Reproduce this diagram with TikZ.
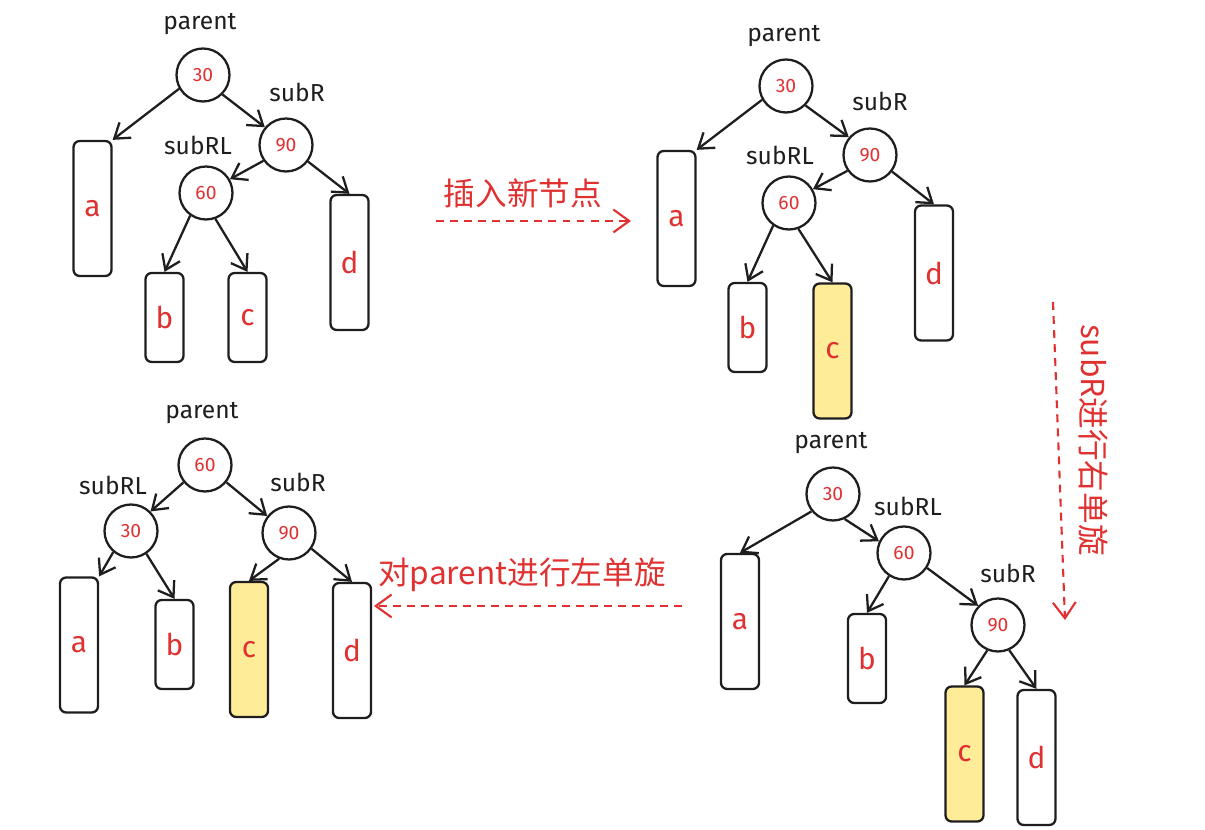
\documentclass[tikz,border=0pt]{standalone}
\usepackage{fontspec}
\setmainfont{Fira Sans}
\newfontfamily\cjk{Noto Sans CJK SC}
\usepackage{xcolor}
\usetikzlibrary{arrows.meta}

\definecolor{ink}{HTML}{1E1E1E}
\definecolor{redink}{HTML}{E03131}
\definecolor{hl}{HTML}{FFEC99}

\tikzset{
  tnode/.style={circle, draw=ink, line width=1.3pt, minimum size=1.06cm, inner sep=0pt,
    text=redink, font=\fontsize{11}{11}\selectfont},
  subtree/.style={rectangle, rounded corners=3.5pt, draw=ink, line width=1.3pt,
    minimum width=0.76cm, inner sep=0pt, text=redink, font=\fontsize{17}{17}\selectfont},
  tall/.style={subtree, minimum height=2.7cm},
  short/.style={subtree, minimum height=1.78cm},
  newbox/.style={fill=hl},
  tag/.style={text=ink, font=\fontsize{14}{14}\selectfont},
  edge/.style={draw=ink, line width=1.3pt, -{Straight Barb[length=8pt,width=11pt]}},
  opflow/.style={draw=redink, line width=1.2pt, dash pattern=on 4.5pt off 3.5pt,
    -{Straight Barb[length=9pt,width=13pt]}},
  optext/.style={text=redink, font=\cjk\fontsize{18}{18}\selectfont}
}

\begin{document}
\begin{tikzpicture}[x=0.02cm, y=-0.02cm]
  \useasboundingbox (0,0) rectangle (1205,830);

  % stage 1: before insertion
  \node[tag] (s1-parent) at (200,24) {parent};
  \node[tnode] (s1-30) at (203,75) {30};
  \node[tag] (s1-subR) at (297,92) {subR};
  \node[tnode] (s1-90) at (286,145) {90};
  \node[tag] (s1-subRL) at (198,145) {subRL};
  \node[tnode] (s1-60) at (206,193) {60};
  \node[tall] (s1-a) at (92.5,208.5) {a};
  \node[short] (s1-b) at (164.5,317.5) {b};
  \node[short] (s1-c) at (247.5,317.5) {c};
  \node[tall] (s1-d) at (349.5,262.5) {d};
  \draw[edge] (s1-30.210) -- (s1-a.north east);
  \draw[edge] (s1-30.-45) -- (s1-90.140);
  \draw[edge] (s1-90.215) -- (s1-60.30);
  \draw[edge] (s1-90.-37) -- (s1-d.north);
  \draw[edge] (s1-60.235) -- (s1-b.north);
  \draw[edge] (s1-60.-70) -- (s1-c.north);

  % insert
  \coordinate (ins-from) at (436,221);
  \coordinate (ins-to) at (631,221);
  \draw[opflow] (ins-from) -- (ins-to);
  \node[optext] (ins-text) at (523,193) {插入新节点};

  % stage 2: c grows
  \node[tag] (s2-parent) at (784,36) {parent};
  \node[tnode] (s2-30) at (786,86) {30};
  \node[tag] (s2-subR) at (880,101) {subR};
  \node[tnode] (s2-90) at (870,155) {90};
  \node[tag] (s2-subRL) at (780,155) {subRL};
  \node[tnode] (s2-60) at (789,203) {60};
  \node[tall] (s2-a) at (676.5,218.5) {a};
  \node[short] (s2-b) at (747.5,327.5) {b};
  \node[tall, newbox] (s2-c) at (832.5,351) {c};
  \node[tall] (s2-d) at (934,273) {d};
  \draw[edge] (s2-30.210) -- (s2-a.north east);
  \draw[edge] (s2-30.-45) -- (s2-90.140);
  \draw[edge] (s2-90.215) -- (s2-60.30);
  \draw[edge] (s2-90.-37) -- (s2-d.north);
  \draw[edge] (s2-60.235) -- (s2-b.north);
  \draw[edge] (s2-60.-70) -- (s2-c.north);

  % right rotation on subR
  \coordinate (rr-from) at (1053,302);
  \coordinate (rr-to) at (1065,620);
  \draw[opflow] (rr-from) -- (rr-to);
  \node[optext, rotate=-90] (rr-text) at (1093,440) {subR进行右单旋};

  % stage 3: after right rotation
  \node[tag] (s3-parent) at (831,443) {parent};
  \node[tnode] (s3-30) at (833,494) {30};
  \node[tag] (s3-subRL) at (908,506) {subRL};
  \node[tnode] (s3-60) at (904,553) {60};
  \node[tag] (s3-subR) at (1008,573) {subR};
  \node[tnode] (s3-90) at (998,625) {90};
  \node[tall] (s3-a) at (740,621.5) {a};
  \node[short] (s3-b) at (867,658.5) {b};
  \node[tall, newbox] (s3-c) at (964.5,754) {c};
  \node[tall] (s3-d) at (1036.5,757.5) {d};
  \draw[edge] (s3-30.219) -- (s3-a.north);
  \draw[edge] (s3-30.-65) -- (s3-60.155);
  \draw[edge] (s3-60.237) -- (s3-b.north);
  \draw[edge] (s3-60.-33) -- (s3-90.136);
  \draw[edge] (s3-90.247) -- (s3-c.north);
  \draw[edge] (s3-90.-66) -- (s3-d.north);

  % left rotation on parent
  \coordinate (rl-from) at (682,606);
  \coordinate (rl-to) at (374,606);
  \draw[opflow] (rl-from) -- (rl-to);
  \node[optext] (rl-text) at (522,575) {对parent进行左单旋};

  % stage 4: balanced
  \node[tag] (s4-parent) at (202,413) {parent};
  \node[tnode] (s4-60) at (205,465) {60};
  \node[tag] (s4-subRL) at (113,485) {subRL};
  \node[tnode] (s4-30) at (131,531) {30};
  \node[tag] (s4-subR) at (298,482) {subR};
  \node[tnode] (s4-90) at (289,533) {90};
  \node[tall] (s4-a) at (79,645) {a};
  \node[short] (s4-b) at (174.5,644.5) {b};
  \node[tall, newbox] (s4-c) at (249,649.5) {c};
  \node[tall] (s4-d) at (352,650.5) {d};
  \draw[edge] (s4-60.219) -- (s4-30.45);
  \draw[edge] (s4-60.-39) -- (s4-90.142);
  \draw[edge] (s4-30.230) -- (s4-a.north east);
  \draw[edge] (s4-30.-56) -- (s4-b.north);
  \draw[edge] (s4-90.249) -- (s4-c.north);
  \draw[edge] (s4-90.-35) -- (s4-d.north);
\end{tikzpicture}
\end{document}
